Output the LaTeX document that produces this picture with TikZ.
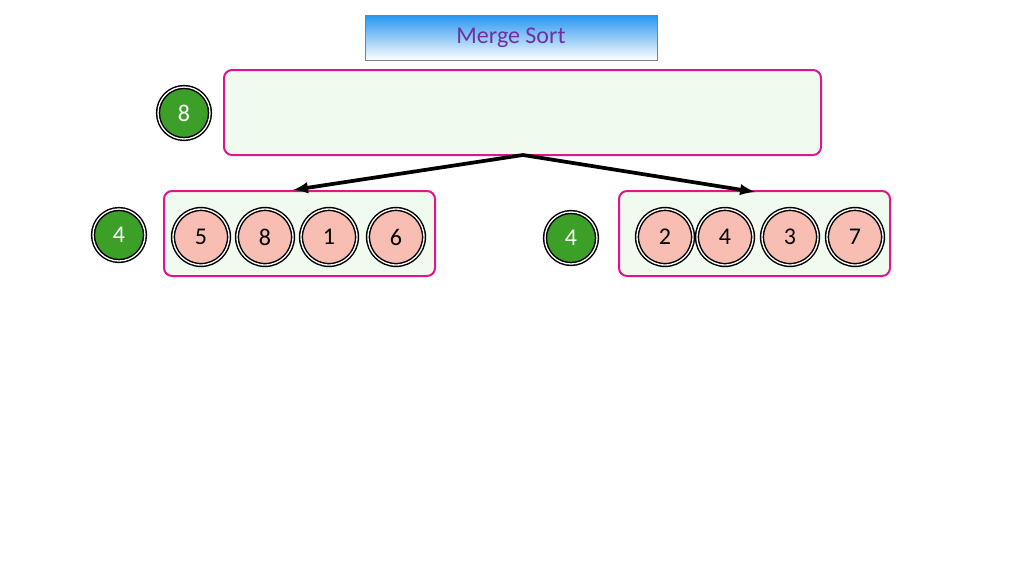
\documentclass[tikz,border=0pt]{standalone}
\usepackage{fontspec}
\setmainfont{Carlito}
\usetikzlibrary{positioning}
\definecolor{boxpink}{RGB}{225,20,140}
\definecolor{boxfill}{RGB}{240,250,238}
\definecolor{cellfill}{RGB}{248,190,180}
\definecolor{cntgreen}{RGB}{60,160,40}
\definecolor{titletext}{RGB}{112,48,160}
\definecolor{titleblue}{RGB}{40,150,240}
\begin{document}
\begin{tikzpicture}[x=0.75pt, y=-0.75pt, font=\fontsize{18}{21}\selectfont,
  group box/.style={draw=boxpink, line width=1.5pt, fill=boxfill, rounded corners=6pt},
  cell/.style={circle, draw=black, line width=1.1pt, double=white, double distance=1pt, fill=cellfill, minimum size=42pt, inner sep=0pt},
  count/.style={circle, draw=black, line width=1.1pt, double=white, double distance=1pt, fill=cntgreen, text=white, minimum size=39pt, inner sep=0pt},
  split/.style={->, >=latex, line width=2.8pt}]

\useasboundingbox (0,0) rectangle (1024,576);

% title
\node[draw=gray, top color=titleblue, bottom color=white, minimum width=219pt, minimum height=34pt, text=titletext] (title) at (511,38) {Merge Sort};

% whole array
\draw[group box] (224,70) rectangle (821,155);
\coordinate (top) at (523,155);
\node[count] (n8) at (184,113) {8};

% left half
\draw[group box] (164,191) rectangle (435,276);
\node[count] (nl) at (119,235) {4};
\foreach \v/\x/\n in {5/201/l1, 8/265/l2, 1/329/l3, 6/396/l4}
  \node[cell] (\n) at (\x,237) {\v};

% right half
\draw[group box] (619,191) rectangle (890,276);
\node[count] (nr) at (571,238) {4};
\foreach \v/\x/\n in {2/665/r1, 4/725/r2, 3/790/r3, 7/855/r4}
  \node[cell] (\n) at (\x,237) {\v};

\coordinate (lt) at (293,190);
\coordinate (rt) at (755,192);
\draw[split] (top) -- (lt);
\draw[split] (top) -- (rt);
\end{tikzpicture}
\end{document}
